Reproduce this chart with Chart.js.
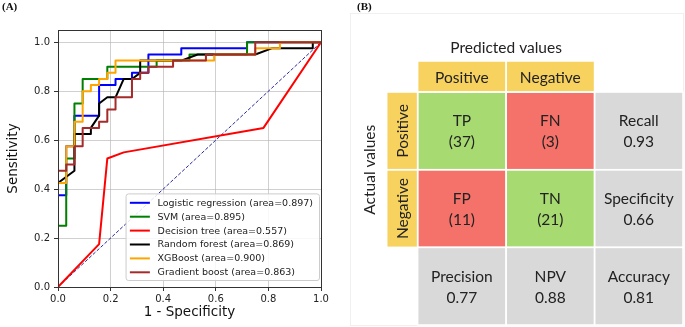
<!DOCTYPE html>
<html lang="en">
<head>
<meta charset="UTF-8">
<title>ROC curves and confusion matrix</title>
<script src="https://cdn.jsdelivr.net/npm/chart.js"></script>
<style>
  body { margin: 0; width: 685px; height: 327px; background: #fff; position: relative; overflow: hidden; }
  .tag { position: absolute; top: 0px; font: bold 11px "Liberation Serif", serif; color: #111; }
  #rocBox { position: absolute; left: 0; top: 0; }
  #cmBox { position: absolute; left: 340px; top: 0; }
</style>
</head>
<body>
<canvas id="rocBox" width="340" height="327"></canvas>
<canvas id="cmBox" width="345" height="327"></canvas>
<div class="tag" style="left:2px">(A)</div>
<div class="tag" style="left:357px">(B)</div>

<script>
// ---- panel A: ROC curves ----
const modelNames = ['Logistic regression', 'SVM', 'Decision tree', 'Random forest', 'XGBoost', 'Gradient boost'];
const modelAuc = [0.897, 0.895, 0.557, 0.869, 0.900, 0.863];
const modelColors = ['blue', 'green', 'red', 'black', 'orange', 'brown'];

const lrFpr = [0, 0, 0.03125, 0.03125, 0.0625, 0.0625, 0.15625, 0.15625, 0.21875, 0.21875, 0.28125, 0.28125, 0.34375, 0.34375, 0.46875, 0.46875, 0.71875, 0.71875, 1];
const lrTpr = [0, 0.375, 0.375, 0.575, 0.575, 0.70, 0.70, 0.825, 0.825, 0.85, 0.85, 0.875, 0.875, 0.95, 0.95, 0.975, 0.975, 1, 1];

const svmFpr = [0, 0, 0.03125, 0.03125, 0.0625, 0.0625, 0.09375, 0.09375, 0.1875, 0.1875, 0.375, 0.375, 0.5, 0.5, 0.71875, 0.71875, 1];
const svmTpr = [0, 0.25, 0.25, 0.525, 0.525, 0.75, 0.75, 0.85, 0.85, 0.9, 0.9, 0.925, 0.925, 0.95, 0.95, 1, 1];

const dtFpr = [0, 0.15625, 0.1875, 0.25, 0.78125, 1];
const dtTpr = [0, 0.175, 0.525, 0.55, 0.65, 1];

const rfFpr = [0, 0, 0.0625, 0.0625, 0.125, 0.125, 0.15625, 0.15625, 0.1875, 0.21875, 0.25, 0.28125, 0.3125, 0.3125, 0.46875, 0.53125, 0.75, 0.8125, 0.96875, 0.96875, 1];
const rfTpr = [0, 0.425, 0.475, 0.625, 0.625, 0.65, 0.70, 0.75, 0.775, 0.775, 0.85, 0.85, 0.875, 0.925, 0.925, 0.95, 0.95, 0.975, 0.975, 1, 1];

const xgbFpr = [0, 0, 0.03125, 0.03125, 0.0625, 0.0625, 0.09375, 0.09375, 0.125, 0.125, 0.15625, 0.15625, 0.1875, 0.1875, 0.21875, 0.21875, 0.59375, 0.59375, 0.75, 0.75, 0.84375, 0.84375, 1];
const xgbTpr = [0, 0.425, 0.425, 0.575, 0.575, 0.675, 0.675, 0.80, 0.80, 0.825, 0.825, 0.85, 0.85, 0.875, 0.875, 0.925, 0.925, 0.95, 0.95, 0.975, 0.975, 1, 1];

const gbFpr = [0, 0, 0.03125, 0.03125, 0.0625, 0.0625, 0.09375, 0.09375, 0.15625, 0.15625, 0.1875, 0.1875, 0.21875, 0.21875, 0.28125, 0.28125, 0.3125, 0.3125, 0.34375, 0.34375, 0.4375, 0.4375, 0.5625, 0.5625, 0.75, 0.75, 1];
const gbTpr = [0, 0.475, 0.475, 0.5, 0.5, 0.575, 0.575, 0.65, 0.65, 0.675, 0.675, 0.725, 0.725, 0.775, 0.775, 0.85, 0.85, 0.875, 0.875, 0.9, 0.9, 0.925, 0.925, 0.95, 0.95, 1, 1];

const chanceLine = [0, 1];
const axisTicks = [0, 0.2, 0.4, 0.6, 0.8, 1.0];

const rocFpr = [lrFpr, svmFpr, dtFpr, rfFpr, xgbFpr, gbFpr];
const rocTpr = [lrTpr, svmTpr, dtTpr, rfTpr, xgbTpr, gbTpr];

// ---- panel B: confusion matrix ----
const predictedLabels = ['Positive', 'Negative'];
const actualLabels = ['Positive', 'Negative'];
const cellCodes = ['TP', 'FN', 'FP', 'TN'];
const cellCounts = [37, 3, 11, 21];
const rowMetricNames = ['Recall', 'Specificity'];
const rowMetricValues = [0.93, 0.66];
const colMetricNames = ['Precision', 'NPV'];
const colMetricValues = [0.77, 0.88];
const accuracyValue = 0.81;

const tickFont = { family: 'DejaVu Sans', size: 10 };
const titleFont = { family: 'DejaVu Sans', size: 13.5 };
const gridColor = 'rgba(176,176,176,0.6)';

let rocSets = modelNames.map(function (name, i) {
    return {
        label: name + ' (area=' + modelAuc[i].toFixed(3) + ')',
        data: rocFpr[i].map(function (x, k) { return { x: x, y: rocTpr[i][k] }; }),
        borderColor: modelColors[i],
        borderWidth: 2,
        borderJoinStyle: 'round',
        pointRadius: 0,
        showLine: true,
        tension: 0,
        order: modelNames.length - i
    };
});
rocSets.push({
    label: 'chance',
    data: chanceLine.map(function (v) { return { x: v, y: v }; }),
    borderColor: '#2a2a9a',
    borderWidth: 1,
    borderDash: [3.5, 1.8],
    pointRadius: 0,
    showLine: true,
    order: 99
});

// frame around the plot + legend in the lower right corner
const rocExtras = {
    id: 'rocExtras',
    afterDraw(chart) {
        const ctx = chart.ctx, ca = chart.chartArea;
        ctx.save();
        ctx.strokeStyle = '#333';
        ctx.lineWidth = 1;
        ctx.strokeRect(Math.round(ca.left) + 0.5, Math.round(ca.top) + 0.5,
            Math.round(ca.right - ca.left), Math.round(ca.bottom - ca.top));

        ctx.font = '9.5px "DejaVu Sans"';
        let maxW = 0;
        for (let i = 0; i < modelNames.length; i++) {
            maxW = Math.max(maxW, ctx.measureText(rocSets[i].label).width);
        }
        const rowH = 13.9;
        const boxW = 32 + maxW + 6;
        const boxH = 9.4 + rowH * (modelNames.length - 1) + 7.7;
        const x0 = ca.right - 2 - boxW;
        const y0 = ca.bottom - 7 - boxH;
        ctx.beginPath();
        ctx.roundRect(x0 + 0.5, y0 + 0.5, boxW, boxH, 2.5);
        ctx.fillStyle = 'rgba(255,255,255,0.85)';
        ctx.fill();
        ctx.strokeStyle = '#cccccc';
        ctx.stroke();
        ctx.textBaseline = 'middle';
        for (let i = 0; i < modelNames.length; i++) {
            const yy = y0 + 9.4 + rowH * i;
            ctx.beginPath();
            ctx.moveTo(x0 + 4.3, yy);
            ctx.lineTo(x0 + 24.3, yy);
            ctx.strokeStyle = modelColors[i];
            ctx.lineWidth = 2;
            ctx.stroke();
            ctx.fillStyle = '#222';
            ctx.fillText(rocSets[i].label, x0 + 32, yy + 0.5);
        }
        ctx.restore();
    }
};

new Chart(document.getElementById('rocBox'), {
    type: 'scatter',
    data: { datasets: rocSets },
    options: {
        responsive: false,
        animation: false,
        layout: { padding: { top: 30, right: 19, left: 0, bottom: 0 } },
        plugins: { legend: { display: false }, tooltip: { enabled: false } },
        scales: {
            x: {
                type: 'linear', min: 0, max: 1,
                afterFit: function (s) { s.height = 40; },
                afterBuildTicks: function (s) { s.ticks = axisTicks.map(function (v) { return { value: v }; }); },
                ticks: { font: tickFont, color: '#222', padding: 2, maxRotation: 0, autoSkip: false,
                    callback: function (v) { return v.toFixed(1); } },
                grid: { color: gridColor, tickColor: '#333', tickLength: 4 },
                border: { color: '#333' },
                title: { display: true, text: '1 - Specificity', font: titleFont, color: '#111', padding: { top: 0, bottom: 6 } }
            },
            y: {
                type: 'linear', min: 0, max: 1.05,
                afterFit: function (s) { s.width = 58; },
                afterBuildTicks: function (s) { s.ticks = axisTicks.map(function (v) { return { value: v }; }); },
                ticks: { font: tickFont, color: '#222', padding: 4, autoSkip: false,
                    callback: function (v) { return v.toFixed(1); } },
                grid: { color: gridColor, tickColor: '#333', tickLength: 4 },
                border: { color: '#333' },
                title: { display: true, text: 'Sensitivity', font: titleFont, color: '#111', padding: { top: 5, bottom: 0 } }
            }
        }
    },
    plugins: [rocExtras]
});

// ---- confusion matrix drawn on a hidden linear grid ----
const cmColors = { header: '#F8D25E', hit: '#A8DA72', miss: '#F4726A', metric: '#D9D9D9' };
const cmFont = '15.5px Lato';

const cmGrid = {
    id: 'cmGrid',
    afterDraw(chart) {
        const ctx = chart.ctx, xs = chart.scales.x, ys = chart.scales.y;
        const X = function (v) { return xs.getPixelForValue(v); };
        const Y = function (v) { return ys.getPixelForValue(v); };
        const rects = [];
        function cell(x0, x1, y0, y1, color) {
            const l = X(x0), r = X(x1), t = Y(y0), b = Y(y1);
            ctx.fillStyle = color;
            ctx.fillRect(l, t, r - l, b - t);
            rects.push([l, t, r - l, b - t]);
            return { cx: (l + r) / 2, cy: (t + b) / 2 };
        }
        ctx.save();
        // faint outer frame of the panel
        ctx.strokeStyle = '#f0f0f0';
        ctx.lineWidth = 1;
        ctx.strokeRect(10.5, 13.5, 333, 312);

        ctx.font = cmFont;
        ctx.textAlign = 'center';
        ctx.textBaseline = 'middle';
        const centers = [];
        for (let j = 0; j < predictedLabels.length; j++) {
            centers.push(['h', cell(j, j + 1, -0.4, 0, cmColors.header), predictedLabels[j]]);
        }
        for (let i = 0; i < actualLabels.length; i++) {
            centers.push(['v', cell(-0.35, 0, i, i + 1, cmColors.header), actualLabels[i]]);
        }
        for (let i = 0; i < 2; i++) {
            for (let j = 0; j < 2; j++) {
                const k = i * 2 + j;
                centers.push(['2', cell(j, j + 1, i, i + 1, i === j ? cmColors.hit : cmColors.miss),
                    cellCodes[k], '(' + cellCounts[k] + ')']);
            }
            centers.push(['2', cell(2, 3, i, i + 1, cmColors.metric), rowMetricNames[i], rowMetricValues[i].toFixed(2)]);
        }
        for (let j = 0; j < 2; j++) {
            centers.push(['2', cell(j, j + 1, 2, 3, cmColors.metric), colMetricNames[j], colMetricValues[j].toFixed(2)]);
        }
        centers.push(['2', cell(2, 3, 2, 3, cmColors.metric), 'Accuracy', accuracyValue.toFixed(2)]);

        ctx.strokeStyle = '#fff';
        ctx.lineWidth = 1.5;
        rects.forEach(function (r) { ctx.strokeRect(r[0], r[1], r[2], r[3]); });

        ctx.fillStyle = '#222';
        centers.forEach(function (c) {
            const p = c[1];
            if (c[0] === 'h') {
                ctx.fillText(c[2], p.cx, p.cy + 1);
            } else if (c[0] === 'v') {
                ctx.save();
                ctx.translate(p.cx + 1, p.cy);
                ctx.rotate(-Math.PI / 2);
                ctx.fillText(c[2], 0, 0);
                ctx.restore();
            } else {
                ctx.fillText(c[2], p.cx, p.cy - 9.5);
                ctx.fillText(c[3], p.cx, p.cy + 11.5);
            }
        });

        ctx.fillText('Predicted values', X(1), Y(-0.4) - 13);
        ctx.save();
        ctx.translate(X(-0.35) - 17, Y(1));
        ctx.rotate(-Math.PI / 2);
        ctx.fillText('Actual values', 0, 0);
        ctx.restore();
        ctx.restore();
    }
};

new Chart(document.getElementById('cmBox'), {
    type: 'scatter',
    data: {
        datasets: [{
            data: cellCounts.map(function (v, k) { return { x: (k % 2) + 0.5, y: Math.floor(k / 2) + 0.5 }; }),
            pointRadius: 0
        }]
    },
    options: {
        responsive: false,
        animation: false,
        layout: { padding: { top: 61, right: 2, left: 46.7, bottom: 2 } },
        plugins: { legend: { display: false }, tooltip: { enabled: false } },
        scales: {
            x: { type: 'linear', min: -0.35, max: 3, display: false },
            y: { type: 'linear', min: -0.4, max: 3, reverse: true, display: false }
        }
    },
    plugins: [cmGrid]
});
</script>
</body>
</html>
